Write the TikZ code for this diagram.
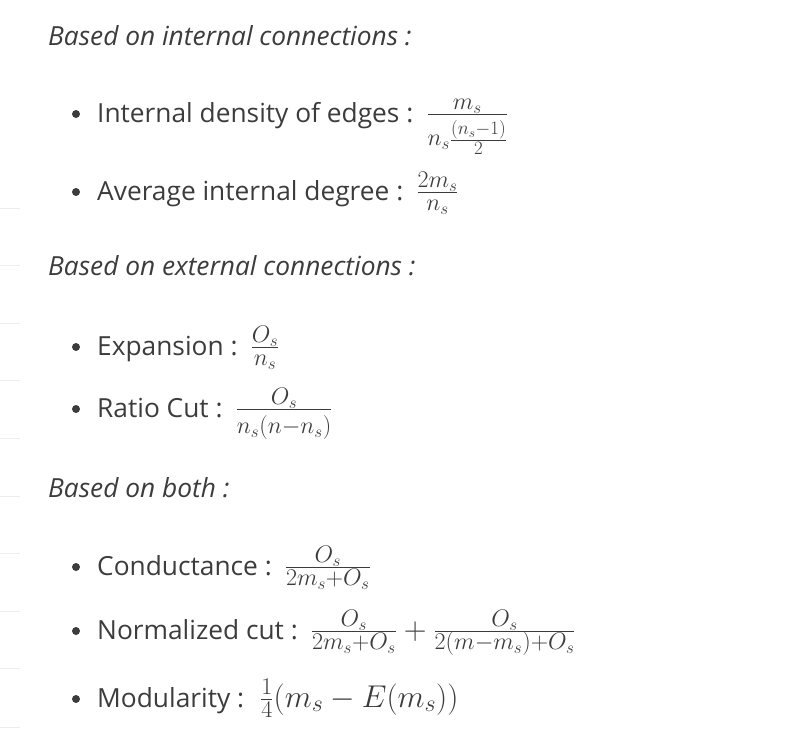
\documentclass[tikz,border=0pt]{standalone}
\usepackage{fix-cm}
\usepackage[no-math]{fontspec}
\setmainfont{Open Sans}
\DeclareMathSizes{31.5}{31.5}{24}{17}
\definecolor{ink}{HTML}{3C3C3C}
\definecolor{faint}{HTML}{EEEEEE}
\newcommand{\fm}[1]{\kern4pt{\fontsize{31.5}{37}\selectfont$#1$}}
\newcommand{\tinymath}[1]{\hbox{\fontsize{27}{30}\selectfont$\scriptstyle #1$}}

\begin{document}
\begin{tikzpicture}[x=1pt, y=-1pt,
    heading/.style={anchor=base west, inner sep=0, text=ink, font=\fontsize{26.3}{31}\selectfont\itshape},
    entry/.style={anchor=base west, inner sep=0, text=ink, font=\fontsize{26.3}{31}\selectfont},
    dot/.style={circle, fill=ink, inner sep=0, minimum size=8pt}]
    \useasboundingbox (0,0) rectangle (811,753);

    \foreach \y in {208,265.5,323,380.5,438,496,553.5,611,668.5,727}
        \draw[faint, line width=0.8pt] (0,\y) -- (20,\y);

    \node (inner) at (48,45) [heading] {Based on internal connections :};
    \node (dens) at (97,122) [entry] {Internal density of edges : \fm{\frac{m_s}{\rule{0pt}{31pt}n_s\frac{\tinymath{(n_s-1)}}{\tinymath{2}}}}};
    \node (avg) at (97,200) [entry] {Average internal degree : \fm{\frac{2m_s}{n_s}}};

    \node (outer) at (48,275) [heading] {Based on external connections :};
    \node (expn) at (97,355) [entry] {Expansion : \fm{\frac{O_s}{n_s}}};
    \node (ratio) at (97,417) [entry] {Ratio Cut : \fm{\frac{O_s}{\rule{0pt}{24pt}n_s(n-n_s)}}};

    \node (both) at (48,497) [heading] {Based on both :};
    \node (cond) at (97,575) [entry] {Conductance : \fm{\frac{O_s}{2m_s+O_s}}};
    \node (ncut) at (97,639) [entry] {Normalized cut : \fm{\frac{O_s}{2m_s+O_s}+\frac{O_s}{2(m-m_s)+O_s}}};
    \node (modul) at (97,707) [entry] {Modularity : \fm{\kern3pt\frac{1}{4}(m_s-E(m_s))}};

    \node (d1) at (76,114) [dot] {};
    \node (d2) at (76,192) [dot] {};
    \node (d3) at (76,347) [dot] {};
    \node (d4) at (76,409) [dot] {};
    \node (d5) at (76,567) [dot] {};
    \node (d6) at (76,631) [dot] {};
    \node (d7) at (76,699) [dot] {};
\end{tikzpicture}
\end{document}
